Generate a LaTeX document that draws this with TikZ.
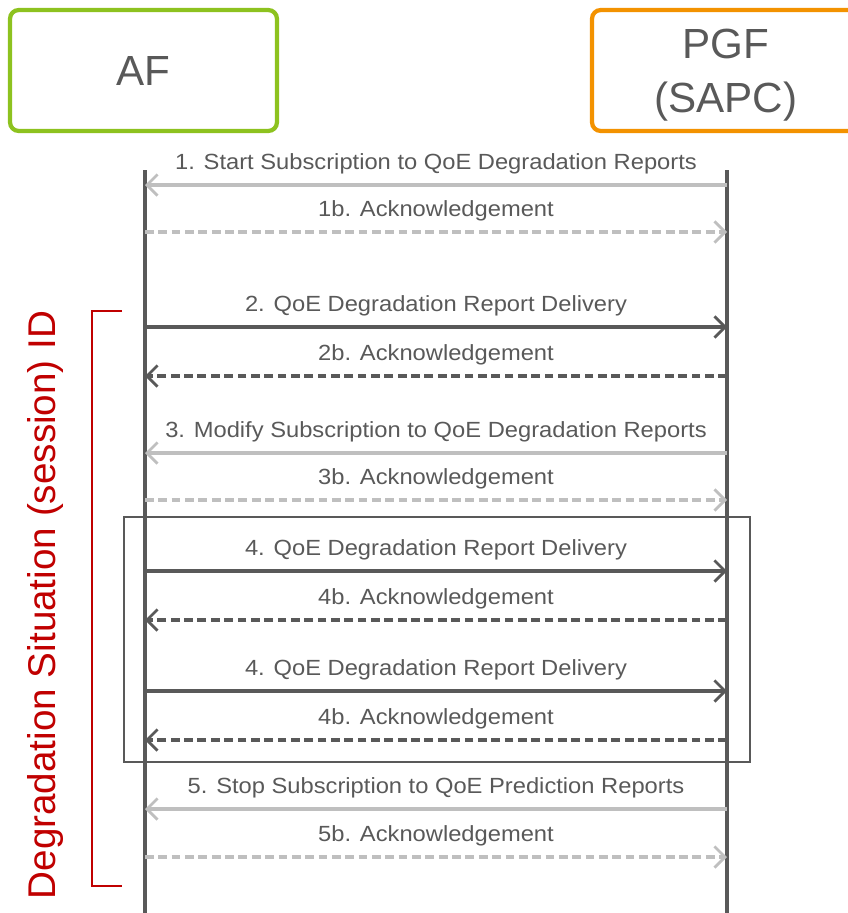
\documentclass[tikz,border=0pt]{standalone}
\usepackage{fontspec}
\setmainfont{Liberation Sans}
\newfontfamily\lblfont[FakeStretch=1.08]{Liberation Sans}
\usetikzlibrary{arrows.meta}
\definecolor{darkline}{HTML}{595959}
\definecolor{lightline}{HTML}{BFBFBF}
\definecolor{afgreen}{HTML}{8DC21F}
\definecolor{pgforange}{HTML}{F39200}
\definecolor{idred}{HTML}{C00000}
\tikzset{
  entity/.style={draw, line width=2.4pt, rounded corners=5pt, text=darkline,
    font=\fontsize{24}{28}\selectfont, align=center, inner sep=0pt},
  lifeline/.style={draw=darkline, line width=1.8pt},
  msglbl/.style={text=darkline, font=\lblfont\fontsize{12.5}{14}\selectfont, above=2pt},
  req/.style={line width=2pt, -{Straight Barb[length=6pt,width=12pt,line width=1.6pt]}},
  ack/.style={req, dash pattern=on 5pt off 2.6pt},
  lightmsg/.style={draw=lightline},
  darkmsg/.style={draw=darkline},
}
\begin{document}
\begin{tikzpicture}[x=0.02cm, y=-0.02cm]
    \useasboundingbox (0,0) rectangle (848,913);
    % entities
    \node[entity, draw=afgreen, minimum width=267*0.02cm, minimum height=121*0.02cm]
        (AF) at (143.5,70.5) {AF};
    \node[entity, draw=pgforange, minimum width=268*0.02cm, minimum height=121*0.02cm,
        text width=5cm] (PGF) at (726,70.5) {};
    \node[text=darkline, font=\fontsize{24}{31}\selectfont, align=center]
        (PGFname) at (726,75) {PGF\\(SAPC)};
    % lifelines
    \coordinate (AFtop) at (145,170);
    \coordinate (AFbot) at (145,913);
    \coordinate (PGFtop) at (727,170);
    \coordinate (PGFbot) at (727,913);
    \draw[lifeline] (AFtop) -- (AFbot);
    \draw[lifeline] (PGFtop) -- (PGFbot);
    % message end points
    \coordinate (a1) at (145,185);  \coordinate (p1) at (727,185);
    \coordinate (a1b) at (145,232); \coordinate (p1b) at (727,232);
    \coordinate (a2) at (145,327);  \coordinate (p2) at (727,327);
    \coordinate (a2b) at (145,376); \coordinate (p2b) at (727,376);
    \coordinate (a3) at (145,453);  \coordinate (p3) at (727,453);
    \coordinate (a3b) at (145,500); \coordinate (p3b) at (727,500);
    \coordinate (a4) at (145,571);  \coordinate (p4) at (727,571);
    \coordinate (a4b) at (145,620); \coordinate (p4b) at (727,620);
    \coordinate (a4x) at (145,691); \coordinate (p4x) at (727,691);
    \coordinate (a4y) at (145,740); \coordinate (p4y) at (727,740);
    \coordinate (a5) at (145,809);  \coordinate (p5) at (727,809);
    \coordinate (a5b) at (145,857); \coordinate (p5b) at (727,857);
    % messages
    \draw[req, lightmsg] (p1) -- node[msglbl] {1. Start Subscription to QoE Degradation Reports} (a1);
    \draw[ack, lightmsg] (a1b) -- node[msglbl] {1b. Acknowledgement} (p1b);
    \draw[req, darkmsg] (a2) -- node[msglbl] {2. QoE Degradation Report Delivery} (p2);
    \draw[ack, darkmsg] (p2b) -- node[msglbl] {2b. Acknowledgement} (a2b);
    \draw[req, lightmsg] (p3) -- node[msglbl] {3. Modify Subscription to QoE Degradation Reports} (a3);
    \draw[ack, lightmsg] (a3b) -- node[msglbl] {3b. Acknowledgement} (p3b);
    \draw[req, darkmsg] (a4) -- node[msglbl] {4. QoE Degradation Report Delivery} (p4);
    \draw[ack, darkmsg] (p4b) -- node[msglbl] {4b. Acknowledgement} (a4b);
    \draw[req, darkmsg] (a4x) -- node[msglbl] {4. QoE Degradation Report Delivery} (p4x);
    \draw[ack, darkmsg] (p4y) -- node[msglbl] {4b. Acknowledgement} (a4y);
    \draw[req, lightmsg] (p5) -- node[msglbl] {5. Stop Subscription to QoE Prediction Reports} (a5);
    \draw[ack, lightmsg] (a5b) -- node[msglbl] {5b. Acknowledgement} (p5b);
    % repeated delivery frame
    \draw[darkline, line width=0.8pt] (124,517) rectangle (750,762);
    % session bracket
    \draw[idred, line width=0.8pt] (122,311) -- (92,311) -- (92,886) -- (122,886);
    \node[text=idred, rotate=90, font=\fontsize{22}{26}\selectfont]
        (sessid) at (46,605) {Degradation Situation (session) ID};
\end{tikzpicture}
\end{document}
